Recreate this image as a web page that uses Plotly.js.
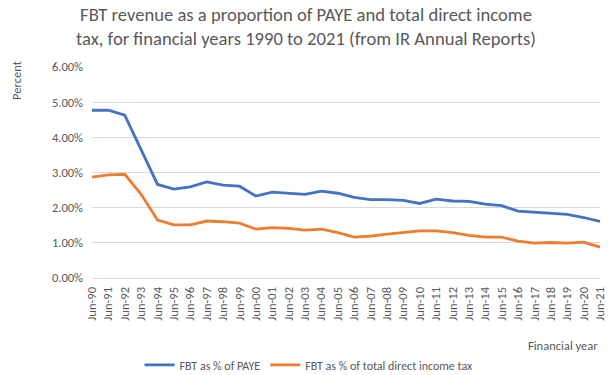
<!DOCTYPE html>
<html>
<head>
<meta charset="utf-8">
<script src="https://cdn.plot.ly/plotly-3.0.1.min.js"></script>
<style>html,body{margin:0;padding:0;background:#fff;}#chart{width:612px;height:375px;}</style>
</head>
<body>
<div id="chart"></div>
<script>
var categories = ["Jun-90","Jun-91","Jun-92","Jun-93","Jun-94","Jun-95","Jun-96","Jun-97","Jun-98","Jun-99","Jun-00","Jun-01","Jun-02","Jun-03","Jun-04","Jun-05","Jun-06","Jun-07","Jun-08","Jun-09","Jun-10","Jun-11","Jun-12","Jun-13","Jun-14","Jun-15","Jun-16","Jun-17","Jun-18","Jun-19","Jun-20","Jun-21"];
var payePct = [4.77,4.77,4.63,3.64,2.66,2.53,2.59,2.73,2.64,2.61,2.33,2.44,2.41,2.38,2.47,2.41,2.29,2.23,2.23,2.21,2.12,2.24,2.19,2.18,2.10,2.06,1.90,1.87,1.84,1.81,1.72,1.61];
var totalPct = [2.87,2.93,2.95,2.38,1.65,1.51,1.51,1.62,1.60,1.56,1.39,1.43,1.41,1.36,1.39,1.29,1.16,1.19,1.25,1.29,1.34,1.34,1.29,1.21,1.16,1.16,1.05,0.99,1.01,0.99,1.02,0.88];
var yTicks = [0,1,2,3,4,5,6];

var FONT = "Carlito, Calibri, Lato, 'Open Sans', sans-serif";
var GREY = "#595959";

var traces = [
  {x: categories, y: payePct, type: "scatter", mode: "lines", name: "FBT as % of PAYE",
   line: {color: "#4472c4", width: 2.8}},
  {x: categories, y: totalPct, type: "scatter", mode: "lines", name: "FBT as % of total direct income tax",
   line: {color: "#ed7d31", width: 2.8}}
];

var layout = {
  width: 612, height: 375,
  margin: {l: 92, r: 12, t: 67, b: 97, autoexpand: false},
  paper_bgcolor: "#fff", plot_bgcolor: "#fff",
  font: {family: FONT, color: GREY, size: 12},
  title: {text: "FBT revenue as a proportion of PAYE and total direct income<br>tax, for financial years 1990 to 2021 (from IR Annual Reports)",
          x: 0.5, xanchor: "center", xref: "container", yref: "container", y: 0.945, yanchor: "top",
          font: {family: FONT, size: 18.6, color: GREY}},
  xaxis: {type: "category", range: [0, categories.length - 1], tickangle: -90, automargin: false,
          showgrid: false, showline: true, linecolor: "#d9d9d9", linewidth: 1,
          ticks: "", ticklabelstandoff: 3, tickfont: {size: 12.5, color: GREY}, zeroline: false, fixedrange: true},
  yaxis: {range: [0, 6], tickvals: yTicks, ticktext: yTicks.map(function(v){return v.toFixed(2) + "%";}),
          automargin: false, showgrid: true, gridcolor: "#d9d9d9", gridwidth: 1, zeroline: false, showline: false,
          ticks: "", ticklabelstandoff: 8, tickfont: {size: 12.5, color: GREY}, fixedrange: true},
  showlegend: true,
  legend: {orientation: "h", xref: "container", yref: "container", x: 0.505, xanchor: "center",
           y: 0.027, yanchor: "middle", font: {size: 12, color: GREY}, bgcolor: "rgba(0,0,0,0)"},
  annotations: [
    {text: "Percent", xref: "paper", yref: "paper", x: -0.15, y: 0.938, textangle: -90,
     showarrow: false, font: {size: 12.5, color: GREY}, xanchor: "center", yanchor: "middle"},
    {text: "Financial year", xref: "paper", yref: "paper", x: 1.0, xanchor: "right", y: -0.318, yanchor: "middle",
     showarrow: false, font: {size: 12.5, color: GREY}}
  ]
};

Plotly.newPlot("chart", traces, layout, {displayModeBar: false, staticPlot: true});
</script>
</body>
</html>
